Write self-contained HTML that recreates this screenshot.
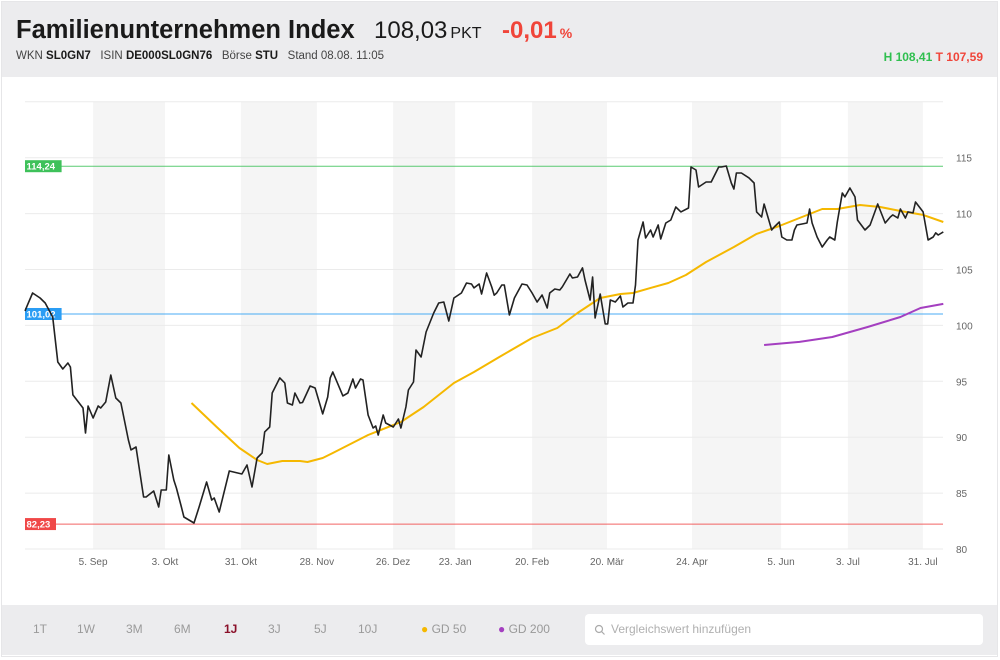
<!DOCTYPE html>
<html><head><meta charset="utf-8">
<style>
html,body{margin:0;padding:0;width:1000px;height:660px;background:#fff;font-family:"Liberation Sans",sans-serif;overflow:hidden}
.frame{position:absolute;left:1px;top:1px;width:997px;height:656px;border:1px solid #e6e6e8;box-sizing:border-box}
.header{position:absolute;left:2px;top:2px;width:995px;height:75px;background:#ececee}
.title{position:absolute;left:14px;top:14px;font-size:25.5px;font-weight:bold;color:#1a1a1a;white-space:nowrap}
.price{position:absolute;left:372px;top:15px;font-size:24px;color:#1a1a1a;white-space:nowrap}
.price small{font-size:16px;margin-left:3px}
.chg{position:absolute;left:500px;top:15px;font-size:24px;font-weight:bold;color:#f0453a;white-space:nowrap}
.chg small{font-size:14px;margin-left:3px}
.sub{position:absolute;left:14px;top:48px;font-size:11.5px;color:#444;white-space:nowrap}
.sub b{color:#1a1a1a}
.hl{position:absolute;right:14px;top:48px;font-size:12px;font-weight:bold;white-space:nowrap}
.bar{position:absolute;left:2px;top:605px;width:995px;height:50px;background:#ececee}
.bar span{position:absolute;top:17px;font-size:12px;color:#9a9a9a}
.search{position:absolute;left:583px;top:9px;width:398px;height:31px;background:#fff;border-radius:4px}
.search span{position:absolute;left:26px;top:8px;font-size:12px;color:#b0b0b0}
</style></head><body>
<div class="frame"></div>
<div class="header">
  <div class="title">Familienunternehmen Index</div>
  <div class="price">108,03<small>PKT</small></div>
  <div class="chg">-0,01<small>%</small></div>
  <div class="sub">WKN <b>SL0GN7</b>&nbsp;&nbsp; ISIN <b>DE000SL0GN76</b>&nbsp;&nbsp; Börse <b>STU</b>&nbsp;&nbsp; Stand 08.08. 11:05</div>
  <div class="hl"><span style="color:#2fbf4f">H 108,41</span> <span style="color:#f0453a">T 107,59</span></div>
</div>
<svg id="chart" width="1000" height="660" style="position:absolute;left:0;top:0"></svg>
<div class="bar">
  <span style="left:31px">1T</span>
  <span style="left:75px">1W</span>
  <span style="left:124px">3M</span>
  <span style="left:172px">6M</span>
  <span style="left:222px;color:#8a1029;font-weight:bold">1J</span>
  <span style="left:266px">3J</span>
  <span style="left:312px">5J</span>
  <span style="left:356px">10J</span>
  <span style="left:419px;color:#999"><span style="position:static;color:#f5b800">●</span> GD 50</span>
  <span style="left:496px;color:#999"><span style="position:static;color:#a43fc0">●</span> GD 200</span>
  <div class="search">
    <svg width="12" height="12" style="position:absolute;left:9px;top:10px"><circle cx="5" cy="5" r="3.5" fill="none" stroke="#aaa" stroke-width="1.2"/><line x1="7.5" y1="7.5" x2="10.5" y2="10.5" stroke="#aaa" stroke-width="1.2"/></svg>
    <span>Vergleichswert hinzufügen</span>
  </div>
</div>
<script>
const priceDays=[0,1,3,6,8,11,13,15,17,18,19,23,24,25,27,29,30,32,34,36,38,41,42,44,47,48,51,53,54,56,57,59,60,62,63,67,69,72,74,75,77,81,86,88,90,92,94,95,97,98,101,103,104,106,107,109,110,113,115,118,120,121,122,126,128,130,131,133,134,136,138,139,140,142,143,146,148,149,151,152,154,155,157,159,162,164,166,168,170,173,175,177,178,180,181,183,185,186,187,189,190,192,194,197,199,201,203,205,207,208,210,212,213,216,217,219,221,222,224,225,226,228,230,231,232,234,236,237,239,241,242,243,245,246,248,249,251,252,254,256,258,260,263,264,266,267,270,272,275,276,278,280,281,282,284,287,289,290,292,293,294,296,297,299,300,302,304,305,306,308,310,311,312,314,316,318,319,321,322,324,325,327,329,330,333,335,338,341,343,344,346,347,349,350,352,353,356,358,360,361,362,364];
const priceValues=[101.3,101.83,102.9,102.45,102.0,100.75,96.73,96.1,96.64,96.28,93.78,92.61,90.38,92.79,91.72,92.79,92.61,93.15,95.56,93.51,93.06,89.75,88.86,89.12,84.65,84.65,85.19,83.76,85.28,85.28,88.41,86.17,85.46,83.76,82.86,82.33,83.76,85.99,84.38,84.56,83.31,86.98,86.71,87.51,85.55,88.14,88.59,90.47,90.91,93.95,95.3,94.85,93.06,92.88,93.95,93.06,93.1,94.58,94.4,92.08,93.6,95.3,95.83,93.69,93.95,95.21,94.4,95.21,95.12,91.99,90.82,91.0,90.2,91.99,91.27,90.91,91.63,90.82,92.7,94.22,94.94,97.8,97.17,99.41,101.11,102.0,102.09,100.39,102.45,102.9,103.79,103.7,103.35,103.7,102.81,104.69,103.44,102.7,102.9,103.61,103.61,100.93,102.45,103.7,103.61,102.9,102.09,102.72,101.56,102.9,103.26,103.17,103.44,104.6,104.24,104.33,105.14,104.06,102.27,104.33,100.66,102.81,100.13,100.13,102.27,102.09,102.63,101.65,102.0,102.0,103.61,107.64,109.25,107.82,108.53,107.91,108.98,107.73,109.16,109.43,110.59,110.15,110.5,114.17,113.9,112.38,112.83,112.83,114.17,114.17,114.26,112.74,112.2,113.63,113.63,113.19,112.74,110.15,109.7,110.86,110.06,108.53,108.8,109.25,107.91,107.64,107.64,108.53,108.98,109.07,109.16,110.41,109.16,107.91,107.01,107.64,107.91,107.64,109.25,111.84,111.49,112.29,111.49,109.43,108.53,108.98,110.86,109.16,109.7,109.88,109.61,110.41,109.61,110.15,110.06,111.04,110.15,107.64,107.91,108.27,108.09,108.36];
const gd50Days=[66,76,85,92,96,102,109,112,118,122,136,149,158,170,178,188,201,211,219,228,236,241,248,255,262,270,281,290,299,307,316,322,331,339,347,356,364];
const gd50Values=[93.06,90.91,89.03,87.96,87.6,87.87,87.87,87.78,88.14,88.59,90.2,91.36,92.7,94.85,95.83,97.17,98.87,99.77,101.11,102.45,102.81,102.9,103.35,103.79,104.51,105.67,107.01,108.18,108.89,109.61,110.41,110.41,110.77,110.59,110.23,109.88,109.25];
const gd200Days=[293,307,320,334,347,355,364];
const gd200Values=[98.25,98.52,98.96,99.86,100.75,101.56,101.92];
const yTicks=[80,85,90,95,100,105,110,115,120];
const monthLabels=["5. Sep","3. Okt","31. Okt","28. Nov","26. Dez","23. Jan","20. Feb","20. Mär","24. Apr","5. Jun","3. Jul","31. Jul"];
const monthDays=[27,55.5,85.6,115.7,145.9,170.5,201,230.7,264.4,299.7,326.2,355.9];
const refValues=[114.24,101.02,82.23];
const refLabels=["114,24","101,02","82,23"];
const refColors=["#3ec15a","#2a9df4","#f04848"];

const X0=25,X1=943,D1=363.9,Y80=549,PXU=11.18;
const xs=d=>X0+(d/D1)*(X1-X0);
const ys=v=>Y80-(v-80)*PXU;
const svg=document.getElementById('chart');
const NS='http://www.w3.org/2000/svg';
function mk(t,a){const e=document.createElementNS(NS,t);for(const k in a)e.setAttribute(k,a[k]);svg.appendChild(e);return e;}

for(let i=0;i<monthDays.length;i+=2){
  const x0=xs(monthDays[i]);
  const x1=i+1<monthDays.length?xs(monthDays[i+1]):X1;
  const r=mk('rect',{x:x0,y:ys(120),width:x1-x0,height:ys(80)-ys(120),fill:'#f5f5f5'});
  
  
}
yTicks.forEach(v=>{
  const l=mk('line',{x1:X0,x2:X1,y1:ys(v),y2:ys(v),stroke:'#ebebeb','stroke-width':1});
  
  
  if(v<120){
    const t=mk('text',{x:956,y:ys(v)+4,'font-size':10,fill:'#666','font-family':'Liberation Sans, sans-serif'});
    t.textContent=String(v);
    
    
  }
});
monthLabels.forEach((m,i)=>{
  const t=mk('text',{x:xs(monthDays[i]),y:565,'font-size':10,fill:'#666','text-anchor':'middle','font-family':'Liberation Sans, sans-serif'});
  t.textContent=m;
  
  
});
refValues.forEach((v,i)=>{
  const l=mk('line',{x1:X0,x2:X1,y1:ys(v),y2:ys(v),stroke:refColors[i],'stroke-width':1,opacity:0.85});
  
  
  const w=refLabels[i].length*5.6+3;
  const r=mk('rect',{x:X0,y:ys(v)-6,width:w,height:12,fill:refColors[i]});
  
  
  const t=mk('text',{x:X0+1.5,y:ys(v)+3.5,'font-size':9.5,'font-weight':'bold',fill:'#fff','font-family':'Liberation Sans, sans-serif'});
  t.textContent=refLabels[i];
  
  
});
function path(days,vals,color,w,name){
  const d=days.map((dd,i)=>(i?'L':'M')+xs(dd).toFixed(1)+','+ys(vals[i]).toFixed(1)).join('');
  const p=mk('path',{d:d,fill:'none',stroke:color,'stroke-width':w,'stroke-linejoin':'round'});
  
  
}
path(gd200Days,gd200Values,'#a43fc0',2,'gd200-line');
path(gd50Days,gd50Values,'#f5b800',2,'gd50-line');
path(priceDays,priceValues,'#222',1.6,'price-line');
</script>
</body></html>
